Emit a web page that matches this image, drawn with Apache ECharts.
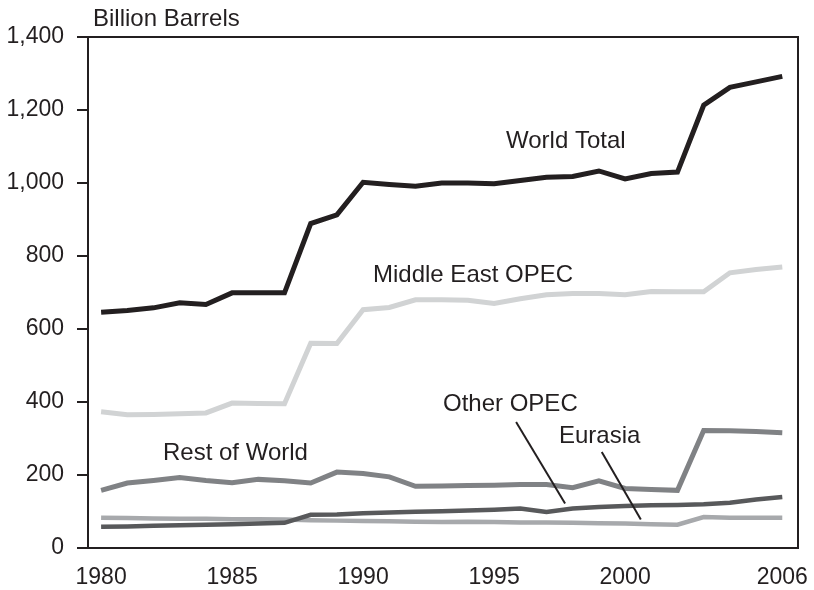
<!DOCTYPE html>
<html>
<head>
<meta charset="utf-8">
<script src="https://cdn.jsdelivr.net/npm/echarts@6/dist/echarts.min.js"></script>
<style>
  html, body { margin: 0; padding: 0; background: #fff; }
  #chart { width: 814px; height: 590px; }
</style>
</head>
<body>
<div id="chart"></div>
<script>
// Oil reserves by region, billion barrels
const years = [1980, 1981, 1982, 1983, 1984, 1985, 1986, 1987, 1988, 1989, 1990, 1991, 1992,
  1993, 1994, 1995, 1996, 1997, 1998, 1999, 2000, 2001, 2002, 2003, 2004, 2005, 2006];
const worldTotal = [646, 651, 658, 672, 667, 699, 699, 699, 889, 913, 1002, 996, 991,
  1000, 1000, 998, 1007, 1016, 1018, 1033, 1011, 1026, 1030, 1213, 1262, 1277, 1292];
const middleEastOpec = [373, 365, 366, 368, 370, 397, 396, 395, 561, 560, 653, 659, 680,
  680, 679, 670, 683, 694, 697, 697, 694, 703, 702, 702, 754, 763, 770];
const restOfWorld = [158, 178, 185, 193, 185, 179, 188, 184, 178, 208, 204, 195, 169,
  170, 171, 172, 174, 174, 165, 184, 163, 160, 158, 322, 321, 319, 316];
const otherOpec = [58, 59, 61, 62, 64, 65, 67, 69, 91, 92, 95, 97, 99,
  101, 103, 105, 108, 99, 108, 112, 115, 117, 118, 120, 124, 133, 140];
const eurasia = [83, 82, 81, 80, 80, 79, 79, 78, 76, 75, 74, 73, 72,
  71, 72, 71, 70, 70, 69, 68, 67, 65, 64, 85, 83, 83, 83];
const xLabels = [1980, 1985, 1990, 1995, 2000, 2006];

const ink = '#231f20';
const font = '"Liberation Sans", Arial, Helvetica, sans-serif';

const pairs = (vals) => years.map((y, i) => [y, vals[i]]);

const chart = echarts.init(document.getElementById('chart'));

const lineSeries = (name, vals, color, width, z) => ({
  name: name,
  type: 'line',
  data: pairs(vals),
  showSymbol: false,
  symbol: 'none',
  lineStyle: { color: color, width: width, join: 'miter' },
  z: z,
  silent: true
});

const label = (text, left, top) => ({
  type: 'text', left: left, top: top,
  style: { text: text, fill: ink, font: '24px ' + font }
});

const option = {
  animation: false,
  backgroundColor: '#fff',
  grid: {
    left: 88, right: 16, top: 37, bottom: 42,
    show: true, borderColor: ink, borderWidth: 2, backgroundColor: 'transparent'
  },
  xAxis: {
    type: 'value',
    min: 1979.5,
    max: 2006.6,
    splitLine: { show: false },
    axisTick: { show: false },
    axisLine: { lineStyle: { color: ink, width: 2 } },
    axisLabel: {
      customValues: xLabels,
      formatter: (v) => String(v),
      color: ink, fontSize: 23, fontFamily: font, margin: 18
    }
  },
  yAxis: {
    type: 'value',
    min: 0,
    max: 1400,
    interval: 200,
    splitLine: { show: false },
    axisLine: { show: true, lineStyle: { color: ink, width: 2 } },
    axisTick: { show: true, length: 11, lineStyle: { color: ink, width: 2 } },
    axisLabel: {
      formatter: (v) => v.toLocaleString('en-US'),
      color: ink, fontSize: 23, fontFamily: font, margin: 24
    }
  },
  graphic: [
    label('Billion Barrels', 93, 7),
    label('World Total', 506, 129),
    label('Middle East OPEC', 373, 263),
    label('Rest of World', 163, 441),
    label('Other OPEC', 443, 392),
    label('Eurasia', 559, 424)
  ],
  series: [
    lineSeries('Eurasia', eurasia, '#a7a9ac', 4.5, 2),
    lineSeries('Other OPEC', otherOpec, '#58595b', 4.5, 3),
    lineSeries('Rest of World', restOfWorld, '#808285', 5, 2),
    lineSeries('Middle East OPEC', middleEastOpec, '#d1d3d4', 5, 2),
    lineSeries('World Total', worldTotal, ink, 5, 4),
    {
      // leader lines for the small-series labels
      type: 'line',
      data: [],
      silent: true,
      markLine: {
        silent: true,
        symbol: 'none',
        label: { show: false },
        lineStyle: { color: ink, width: 2, type: 'solid' },
        data: [
          [{ coord: [1995.84, 345] }, { coord: [1997.71, 122] }],
          [{ coord: [1999.11, 263] }, { coord: [2000.60, 78] }]
        ]
      }
    }
  ]
};

chart.setOption(option);
</script>
</body>
</html>
